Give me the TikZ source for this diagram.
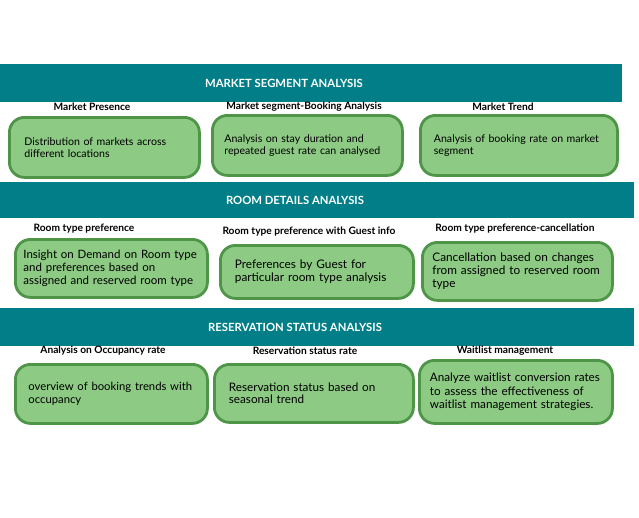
\documentclass[tikz,border=0pt]{standalone}
\usepackage{fontspec}
\setmainfont{Lato}
\usetikzlibrary{positioning}
\definecolor{bandteal}{HTML}{017E87}
\definecolor{cardfill}{HTML}{8DCA84}
\definecolor{cardline}{HTML}{4E9548}

\begin{document}
\begin{tikzpicture}[x=1pt,y=-1pt,
    band/.style={fill=bandteal, anchor=north west, inner sep=0pt, minimum width=634pt},
    bandtitle/.style={text=white, inner sep=0pt, font=\bfseries\fontsize{11.3}{13}\selectfont},
    heading/.style={inner sep=0pt, font=\bfseries\fontsize{10.2}{12}\selectfont},
    card/.style={draw=cardline, fill=cardfill, line width=2.8pt, rounded corners=15pt,
        anchor=north west, inner sep=0pt, align=left, font=\fontsize{10.6}{12.5}\selectfont}]
    \useasboundingbox (0,0) rectangle (639,517);

    % Market segment
    \node[band, minimum width=622pt, minimum height=38pt] (segband) at (0,64) {};
    \node[bandtitle] (segtitle) at (284,83) {MARKET SEGMENT ANALYSIS};
    \node[heading] (presencehd) at (92,107) {Market Presence};
    \node[heading] (bookinghd) at (304,107) {Market segment-Booking Analysis};
    \node[heading] (trendhd) at (503,107) {Market Trend};
    \node[card, minimum width=190pt, minimum height=60pt, text width=160pt] (presence) at (8,116)
        {Distribution of markets across\\different locations};
    \node[card, minimum width=190pt, minimum height=60pt, text width=166pt] (booking) at (211,114)
        {Analysis on stay duration and\\repeated guest rate can analysed};
    \node[card, minimum width=197pt, minimum height=60pt, text width=170pt] (trend) at (419,114)
        {Analysis of booking rate on market\\segment};

    % Room details
    \node[band, minimum height=36pt] (roomband) at (0,182) {};
    \node[bandtitle] (roomtitle) at (295,200) {ROOM DETAILS ANALYSIS};
    \node[heading] (typehd) at (84,229) {Room type preference};
    \node[heading] (guesthd) at (309,232) {Room type preference with Guest info};
    \node[heading] (cancelhd) at (515,229) {Room type preference-cancellation};
    \node[card, minimum width=192pt, minimum height=58pt, text width=176pt,
        font=\fontsize{11.5}{13}\selectfont] (roomtype) at (14,238)
        {Insight on Demand on Room type\\and preferences based on\\assigned and reserved room type};
    \node[card, minimum width=193pt, minimum height=53pt, text width=164pt,
        font=\fontsize{11.8}{12.8}\selectfont] (guest) at (219,244)
        {Preferences by Guest for\\particular room type analysis};
    \node[card, minimum width=190pt, minimum height=58pt, text width=170pt,
        font=\fontsize{11.8}{13}\selectfont] (cancel) at (421,241)
        {Cancellation based on changes\\from assigned to reserved room\\type};

    % Reservation status
    \node[band, minimum height=38pt] (resband) at (0,308) {};
    \node[bandtitle] (restitle) at (295,327) {RESERVATION STATUS ANALYSIS};
    \node[heading] (occupancyhd) at (103,351) {Analysis on Occupancy rate};
    \node[heading] (statushd) at (305,351) {Reservation status rate};
    \node[heading] (waitlisthd) at (505,351) {Waitlist management};
    \node[card, minimum width=192pt, minimum height=59pt, text width=166pt,
        font=\fontsize{11.3}{12.8}\selectfont] (occupancy) at (14,363)
        {overview of booking trends with\\occupancy};
    \node[card, minimum width=199pt, minimum height=58pt, text width=170pt,
        font=\fontsize{11.7}{12.5}\selectfont] (status) at (213,363)
        {Reservation status based on\\seasonal trend};
    \node[card, minimum width=193pt, minimum height=63pt, text width=172pt,
        font=\fontsize{11.7}{13.5}\selectfont] (waitlist) at (418,359)
        {Analyze waitlist conversion rates\\to assess the effectiveness of\\waitlist management strategies.};
\end{tikzpicture}
\end{document}
